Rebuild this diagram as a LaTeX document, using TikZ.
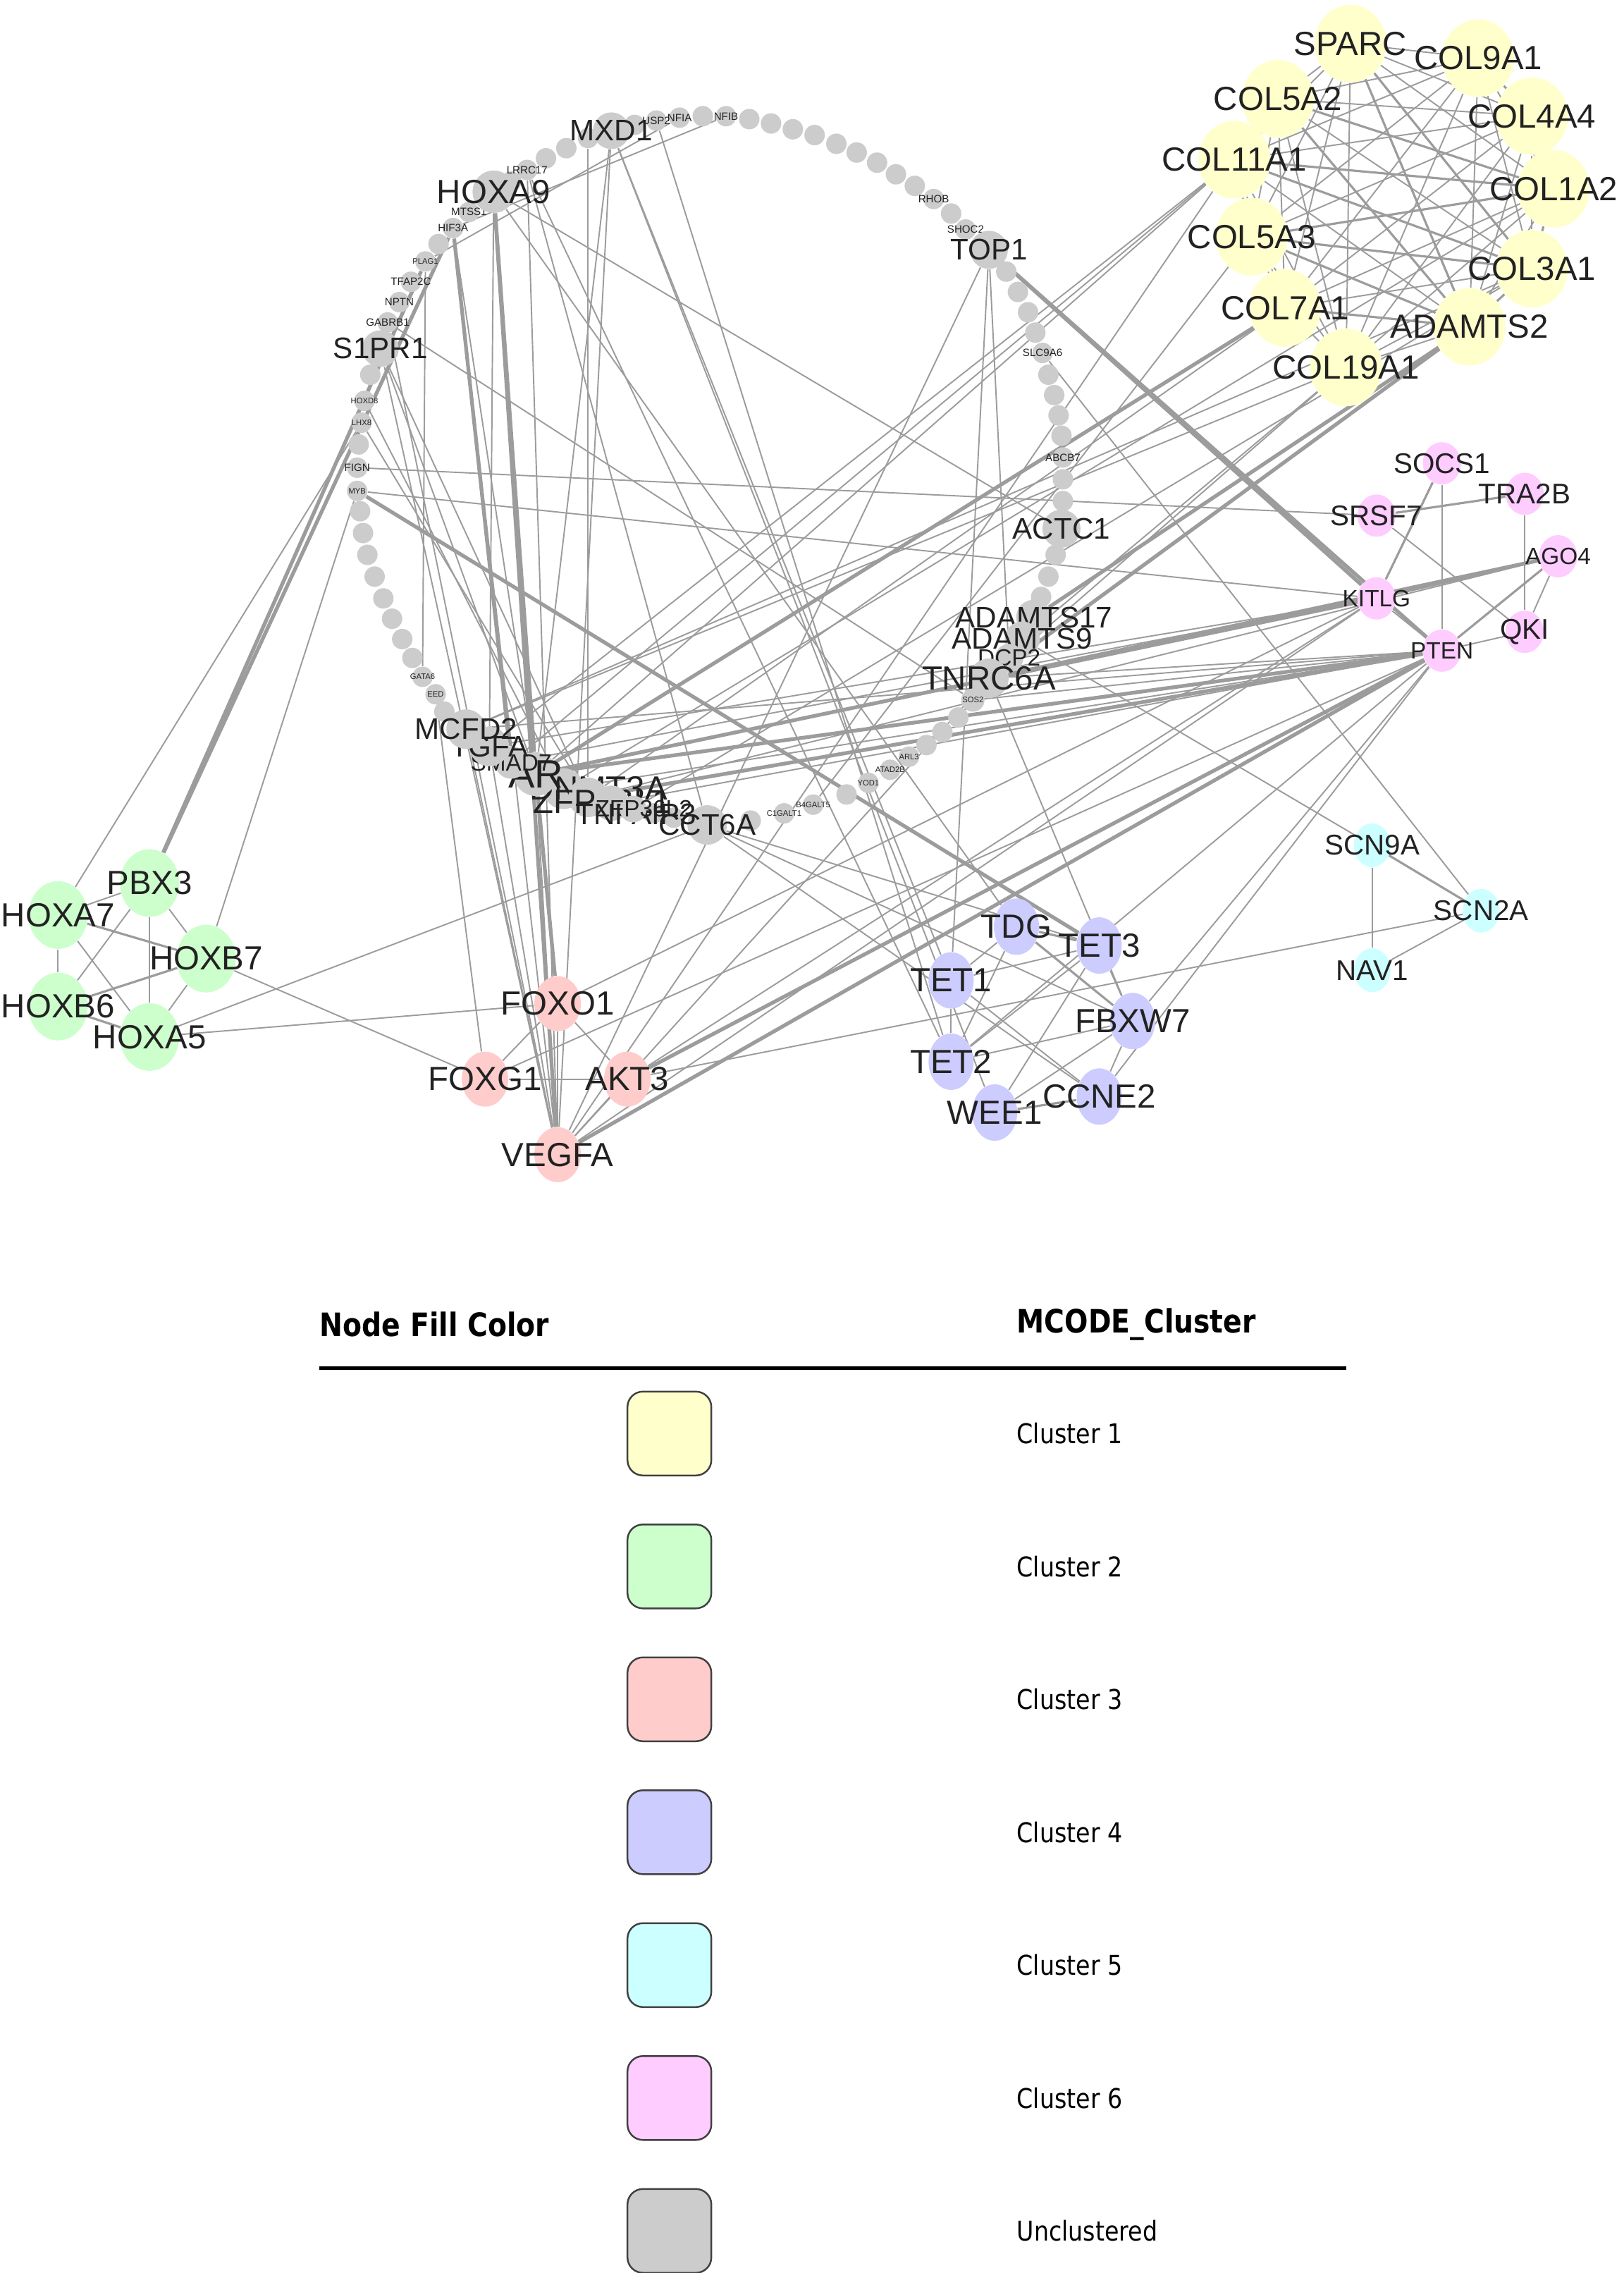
\documentclass[tikz,border=0pt]{standalone}
\usepackage{fontspec}
\setmainfont{Liberation Sans}
\newfontfamily\legendfont[FakeStretch=0.86]{DejaVu Sans}
\usetikzlibrary{shapes.geometric, backgrounds}
\definecolor{cyel}{HTML}{FFFFCC}
\definecolor{cgrn}{HTML}{CCFFCC}
\definecolor{cred}{HTML}{FFCCCC}
\definecolor{cblu}{HTML}{CCCCFF}
\definecolor{ccya}{HTML}{CCFFFF}
\definecolor{cpnk}{HTML}{FFCCFF}
\definecolor{cgry}{HTML}{CCCCCC}
\definecolor{edgec}{HTML}{9C9C9C}
\definecolor{txtc}{HTML}{222222}
\newcommand{\fbig}{\fontsize{13.5}{14}\selectfont}
\newcommand{\fring}{\fontsize{12}{13}\selectfont}
\newcommand{\fmid}{\fontsize{11.5}{12}\selectfont}
\newcommand{\fsml}{\fontsize{9.5}{10}\selectfont}
\newcommand{\ftiny}{\fontsize{4.3}{5}\selectfont}
\newcommand{\fmicro}{\fontsize{3.2}{4}\selectfont}
\tikzset{
  lbig/.style={label={[font=\fbig, text=txtc, inner sep=0pt]center:#1}},
  lring/.style={label={[font=\fring, text=txtc, inner sep=0pt]center:#1}},
  lmid/.style={label={[font=\fmid, text=txtc, inner sep=0pt]center:#1}},
  lsml/.style={label={[font=\fsml, text=txtc, inner sep=0pt]center:#1}},
  ltiny/.style={label={[font=\ftiny, text=txtc, inner sep=0pt]center:#1}},
  lmicro/.style={label={[font=\fmicro, text=txtc, inner sep=0pt]center:#1}},
  ln/.style={draw=edgec, line width=0.55pt},
  lm/.style={draw=edgec, line width=0.9pt},
  lt/.style={draw=edgec, line width=1.5pt},
}
\begin{document}
\begin{tikzpicture}[x=0.206mm, y=-0.206mm,
  yel/.style={ellipse, fill=cyel, inner sep=0pt, minimum width=10.2mm, minimum height=11mm},
  grn/.style={ellipse, fill=cgrn, inner sep=0pt, minimum width=8.4mm, minimum height=9.6mm},
  red/.style={ellipse, fill=cred, inner sep=0pt, minimum width=6.6mm, minimum height=7.8mm},
  blu/.style={ellipse, fill=cblu, inner sep=0pt, minimum width=6.4mm, minimum height=8mm},
  cya/.style={ellipse, fill=ccya, inner sep=0pt, minimum width=5.2mm, minimum height=6.2mm},
  pnk/.style={ellipse, fill=cpnk, inner sep=0pt, minimum width=5.4mm, minimum height=6mm},
  dot/.style={circle, fill=cgry, inner sep=0pt, minimum size=#1},
  dot/.default=2.9mm,
  swatch/.style={draw=black!75, line width=0.7pt, rounded corners=2.2mm, minimum width=11.9mm, minimum height=11.9mm}]
\useasboundingbox (0,0) rectangle (1118,1565);
% ring of unclustered genes
\foreach \x/\y in {306/490,284/453,277/440,270/426,264/412,258/397,253/382,250/367,248/352,247/306,255/258,302/168,352/125,376/109,390/102,437/86,484/80,516/82,531/85,546/89,561/93,576/99,590/105,604/112,617/120,630/128,655/147,693/187,701/201,708/215,713/229,722/258,726/272,729/286,731/300,732/330,732/345,727/382,722/397,717/411,660/494,649/504,638/513,583/547,517/565,464/563,450/560}
  \node[dot] at (\x,\y) {};
\node[dot, lmicro=EED] (eed) at (300,478) {};
\node[dot, lmicro=GATA6] (gata6) at (291,466) {};
\node[dot, lmicro=MYB] (myb) at (246,338) {};
\node[dot, ltiny=FIGN] (fign) at (246,322) {};
\node[dot, lmicro=LHX8] (lhx8) at (249,291) {};
\node[dot, lmicro=HOXD8] (hoxd8) at (251,276) {};
\node[dot=5.2mm, lring=S1PR1] (s1pr1) at (262,240) {};
\node[dot, ltiny=GABRB1] (gabrb1) at (267,222) {};
\node[dot, ltiny=NPTN] (nptn) at (275,208) {};
\node[dot, ltiny=TFAP2C] (tfap2c) at (283,194) {};
\node[dot, lmicro=PLAG1] (plag1) at (293,180) {};
\node[dot, ltiny=HIF3A] (hif3a) at (312,157) {};
\node[dot, ltiny=MTSS1] (mtss1) at (323,146) {};
\node[dot=6mm, lbig=HOXA9] (hoxa9) at (340,132) {};
\node[dot, ltiny=LRRC17] (lrrc17) at (363,117) {};
\node[dot] (r405) at (405,95) {};
\node[dot=5.2mm, lring=MXD1] (mxd1) at (421,90) {};
\node[dot, ltiny=USP2] (usp2) at (452,83) {};
\node[dot, ltiny=NFIA] (nfia) at (468,81) {};
\node[dot, ltiny=NFIB] (nfib) at (500,80) {};
\node[dot, ltiny=RHOB] (rhob) at (643,137) {};
\node[dot, ltiny=SHOC2] (shoc2) at (665,158) {};
\node[dot=5.4mm, lring=TOP1] (top1) at (681,172) {};
\node[dot, ltiny=SLC9A6] (slc9a6) at (718,243) {};
\node[dot, ltiny=ABCB7] (abcb7) at (732,315) {};
\node[dot=5.4mm, lring=ACTC1] (actc1) at (731,364) {};
\node[dot=5mm, lring=ADAMTS17] (adamts17) at (712,425) {};
\node[dot=5mm, lring=ADAMTS9] (adamts9) at (704,440) {};
\node[dot=4mm, lsml=DCP2] (dcp2) at (695,453) {};
\node[dot=5.6mm, lbig=TNRC6A] (tnrc6a) at (681,467) {};
\node[dot=3.3mm, lmicro=SOS2] (sos2) at (670,482) {};
\node[dot, lmicro=ARL3] (arl3) at (626,521) {};
\node[dot, lmicro=ATAD2B] (atad2b) at (613,530) {};
\node[dot, lmicro=YOD1] (yod1) at (598,539) {};
\node[dot, lmicro=B4GALT5] (b4galt5) at (560,554) {};
\node[dot, lmicro=C1GALT1] (c1galt1) at (540,560) {};
\node[dot=5.6mm, lring=CCT6A] (cct6a) at (487,568) {};
% crowded corner of the ring
\node[dot=5.8mm, label={[font=\fbig, text=txtc, inner sep=0pt, xshift=5mm]center:DNMT3A}] (dnmt3a) at (388,543) {};
\node[dot=5.6mm, label={[font=\fbig, text=txtc, inner sep=0pt, xshift=2mm, yshift=-0.6mm]center:ZFP36L1}] (zfp36l1) at (405,549) {};
\node[dot=5mm, label={[font=\fring, text=txtc, inner sep=0pt, xshift=3.5mm, yshift=-1.6mm]center:TNFAIP3}] (tnfaip3) at (421,553) {};
\node[dot=3.8mm, label={[font=\fsml, text=txtc, inner sep=0pt, xshift=1.5mm]center:ZFP36L2}] (zfp36l2) at (436,557) {};
\node[dot=6.2mm, label={[font=\fontsize{16}{17}\selectfont, text=txtc, inner sep=0pt]center:AR}] (ar) at (369,533) {};
\node[dot=4.6mm, lsml=SMAD7] (smad7) at (352,525) {};
\node[dot=5.6mm, lring=TGFA] (tgfa) at (337,514) {};
\node[dot=5.6mm, lring=MCFD2] (mcfd2) at (321,502) {};
% Cluster 1
\node[yel, lbig=SPARC] (sparc) at (930,30) {};
\node[yel, lbig=COL9A1] (col9a1) at (1018,40) {};
\node[yel, lbig=COL5A2] (col5a2) at (880,68) {};
\node[yel, lbig=COL4A4] (col4a4) at (1055,80) {};
\node[yel, lbig=COL11A1] (col11a1) at (850,110) {};
\node[yel, lbig=COL1A2] (col1a2) at (1070,130) {};
\node[yel, lbig=COL5A3] (col5a3) at (862,163) {};
\node[yel, lbig=COL3A1] (col3a1) at (1055,185) {};
\node[yel, lbig=COL7A1] (col7a1) at (885,212) {};
\node[yel, lbig=ADAMTS2] (adamts2) at (1012,225) {};
\node[yel, lbig=COL19A1] (col19a1) at (927,253) {};
% Cluster 2
\node[grn, lbig=PBX3] (pbx3) at (103,608) {};
\node[grn, lbig=HOXA7] (hoxa7) at (40,630) {};
\node[grn, lbig=HOXB7] (hoxb7) at (142,660) {};
\node[grn, lbig=HOXB6] (hoxb6) at (40,693) {};
\node[grn, lbig=HOXA5] (hoxa5) at (103,714) {};
% Cluster 3
\node[red, lbig=FOXO1] (foxo1) at (384,691) {};
\node[red, lbig=FOXG1] (foxg1) at (334,743) {};
\node[red, lbig=AKT3] (akt3) at (432,743) {};
\node[red, lbig=VEGFA] (vegfa) at (384,795) {};
% Cluster 4
\node[blu, lbig=TDG] (tdg) at (700,638) {};
\node[blu, lbig=TET3] (tet3) at (757,651) {};
\node[blu, lbig=TET1] (tet1) at (655,675) {};
\node[blu, lbig=FBXW7] (fbxw7) at (780,703) {};
\node[blu, lbig=TET2] (tet2) at (655,731) {};
\node[blu, lbig=CCNE2] (ccne2) at (757,755) {};
\node[blu, lbig=WEE1] (wee1) at (685,766) {};
% Cluster 5
\node[cya, lmid=SCN9A] (scn9a) at (945,582) {};
\node[cya, lmid=SCN2A] (scn2a) at (1020,627) {};
\node[cya, lmid=NAV1] (nav1) at (945,668) {};
% Cluster 6
\node[pnk, lmid=SOCS1] (socs1) at (993,319) {};
\node[pnk, lmid=TRA2B] (tra2b) at (1050,340) {};
\node[pnk, lmid=SRSF7] (srsf7) at (948,355) {};
\node[pnk, lsml=AGO4] (ago4) at (1073,383) {};
\node[pnk, lsml=KITLG] (kitlg) at (948,412) {};
\node[pnk, lmid=QKI] (qki) at (1050,435) {};
\node[pnk, lsml=PTEN] (pten) at (993,448) {};
% interactions
\begin{scope}[on background layer]
  \fill[white] (0,0) rectangle (1118,1565);
  \foreach \a [count=\i] in {sparc,col9a1,col4a4,col1a2,col3a1,adamts2,col19a1,col7a1,col5a3,col11a1,col5a2} {
    \foreach \b [count=\j] in {sparc,col9a1,col4a4,col1a2,col3a1,adamts2,col19a1,col7a1,col5a3,col11a1,col5a2} {
      \ifnum\j>\i \draw[ln] (\a) -- (\b); \fi
    }
  }
  \foreach \a/\b in {col5a2/col1a2,col11a1/col1a2,col5a3/col1a2,col11a1/col3a1,col5a3/col3a1,col5a3/adamts2,col5a2/adamts2,sparc/col3a1,sparc/adamts2,col7a1/adamts2,col9a1/col4a4,col4a4/col1a2,col1a2/col3a1,col3a1/adamts2,col5a2/col11a1,col11a1/col5a3}
    \draw[lm] (\a) -- (\b);
  % clusters 2-6
  \foreach \a/\b in {hoxa7/pbx3,hoxa7/hoxb6,hoxa7/hoxa5,pbx3/hoxb7,pbx3/hoxa5,pbx3/hoxb6,hoxb7/hoxa5,
    foxo1/foxg1,foxo1/akt3,foxo1/vegfa,foxg1/akt3,akt3/vegfa,
    tdg/tet1,tdg/tet2,tet1/tet3,tet1/tet2,tet1/ccne2,tet3/fbxw7,tet3/wee1,tet2/fbxw7,tet2/tet3,fbxw7/ccne2,fbxw7/wee1,
    scn9a/nav1,scn2a/nav1,
    socs1/pten,srsf7/qki,tra2b/qki,ago4/qki,kitlg/pten,pten/qki}
    \draw[ln] (\a) -- (\b);
  \foreach \a/\b in {hoxa7/hoxb7,hoxb6/hoxb7,hoxb6/hoxa5,tdg/tet3,tdg/fbxw7,wee1/ccne2,scn9a/scn2a,socs1/kitlg,srsf7/tra2b,ago4/kitlg,ago4/pten}
    \draw[lm] (\a) -- (\b);
  % between clusters and ring
  \foreach \a/\b in {hoxa7/lhx8,hoxb7/myb,hoxa5/cct6a,hoxa5/foxo1,hoxb7/foxg1,
    foxg1/eed,foxg1/pten,akt3/kitlg,akt3/scn2a,foxo1/kitlg,
    vegfa/hif3a,vegfa/s1pr1,vegfa/gabrb1,vegfa/mxd1,vegfa/lrrc17,vegfa/mcfd2,vegfa/tgfa,vegfa/ar,vegfa/kitlg,vegfa/tnrc6a,vegfa/top1,vegfa/col11a1,
    mxd1/tet1,mxd1/wee1,usp2/tet2,top1/tet1,tnrc6a/fbxw7,cct6a/fbxw7,cct6a/ccne2,cct6a/tet3,tet2/lrrc17,tdg/hoxa9,fbxw7/pten,ccne2/pten,tet2/pten,
    pten/dnmt3a,pten/tnrc6a,pten/mcfd2,pten/sos2,pten/tnfaip3,kitlg/tgfa,kitlg/myb,kitlg/smad7,ago4/zfp36l1,srsf7/fign,
    scn9a/adamts9,scn2a/slc9a6,
    col11a1/ar,col11a1/tgfa,col11a1/smad7,col5a3/b4galt5,col7a1/zfp36l1,col19a1/tnrc6a,col19a1/adamts9,col19a1/mcfd2,col3a1/mcfd2,col1a2/dnmt3a,col3a1/zfp36l2,
    hoxa9/tgfa,hif3a/ar,s1pr1/ar,s1pr1/zfp36l1,hoxd8/dnmt3a,lhx8/zfp36l1,gata6/plag1,mxd1/ar,r405/zfp36l1,lrrc17/cct6a,hoxa9/actc1,gabrb1/sos2,nfib/hif3a,nfia/plag1,top1/dcp2}
    \draw[ln] (\a) -- (\b);
  \foreach \a/\b in {pbx3/plag1,pbx3/hif3a,foxo1/ar,akt3/pten,vegfa/hoxa9,vegfa/pten,myb/tet3,pten/ar,pten/zfp36l1,pten/top1,kitlg/top1,kitlg/ar,ago4/tnrc6a,col7a1/ar,adamts2/adamts17,adamts2/tnrc6a,hoxa9/ar,hif3a/smad7}
    \draw[lt] (\a) -- (\b);
\end{scope}
% legend
\node[font=\legendfont\bfseries\fontsize{13}{14}\selectfont, anchor=west, inner sep=0pt] (hdfill) at (220,912) {Node Fill Color};
\node[font=\legendfont\bfseries\fontsize{13}{14}\selectfont, anchor=west, inner sep=0pt] (hdclus) at (700,912) {MCODE\_Cluster};
\draw[line width=1.3pt] (220,942) -- (927,942);
\foreach \c/\t [count=\i] in {cyel/Cluster 1,cgrn/Cluster 2,cred/Cluster 3,cblu/Cluster 4,ccya/Cluster 5,cpnk/Cluster 6,cgry/Unclustered} {
  \node[swatch, fill=\c] (sw\i) at (461,895.5+91.5*\i) {};
  \node[font=\legendfont\fontsize{11}{12}\selectfont, anchor=west, inner sep=0pt] (lg\i) at (700,895.5+91.5*\i) {\t};
}
\end{tikzpicture}
\end{document}
